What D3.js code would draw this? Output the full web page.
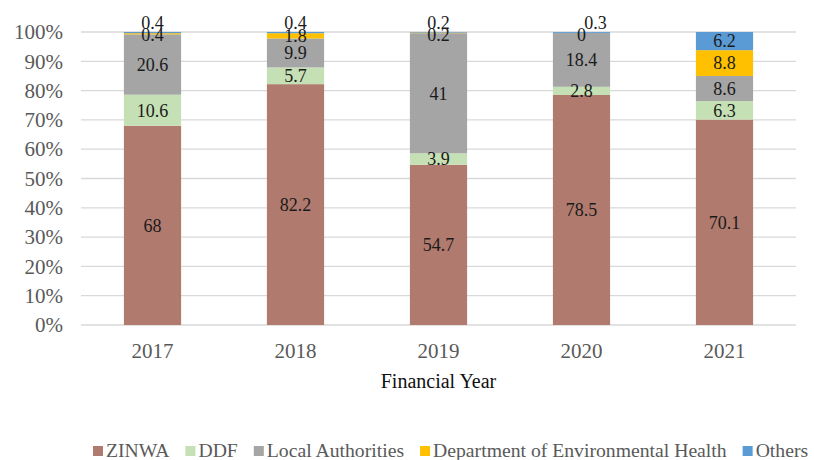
<!DOCTYPE html>
<html>
<head>
<meta charset="utf-8">
<script src="https://cdn.jsdelivr.net/npm/d3@7"></script>
<style>
  body { margin: 0; background: #fff; }
  svg text { font-family: "Liberation Serif", "Times New Roman", "DejaVu Serif", serif !important; }
</style>
</head>
<body>
<div id="chart"></div>
<script>
const years = ['2017', '2018', '2019', '2020', '2021'];
const seriesNames = ['ZINWA', 'DDF', 'Local Authorities', 'Department of Environmental Health', 'Others'];
const zinwa = [68, 82.2, 54.7, 78.5, 70.1];
const ddf = [10.6, 5.7, 3.9, 2.8, 6.3];
const localAuth = [20.6, 9.9, 41, 18.4, 8.6];
const envHealth = [0.4, 1.8, 0.2, 0, 8.8];
const others = [0.4, 0.4, 0.2, 0.3, 6.2];
const yTicks = [0, 10, 20, 30, 40, 50, 60, 70, 80, 90, 100];

const colors = ['#B07A6E', '#C5E0B4', '#A5A5A5', '#FFC000', '#5B9BD5'];

const width = 814, height = 460,
  margin = { top: 32, right: 18, bottom: 135, left: 81 },
  innerW = width - margin.left - margin.right,
  innerH = height - margin.top - margin.bottom;

const table = years.map((y, i) => ({
  year: y,
  ZINWA: zinwa[i],
  DDF: ddf[i],
  'Local Authorities': localAuth[i],
  'Department of Environmental Health': envHealth[i],
  Others: others[i],
}));

const stacked = d3.stack().keys(seriesNames)(table);

const svg = d3.select('#chart').append('svg')
  .attr('width', width).attr('height', height);
const g = svg.append('g').attr('transform', `translate(${margin.left},${margin.top})`);

const x = d3.scaleBand().domain(years).range([0, innerW]).paddingInner(0.6).paddingOuter(0.3);
const y = d3.scaleLinear().domain([0, 100]).range([innerH, 0]);

// gridlines
g.append('g').selectAll('line').data(yTicks).join('line')
  .attr('x1', 0).attr('x2', innerW)
  .attr('y1', d => y(d)).attr('y2', d => y(d))
  .attr('stroke', '#d9d9d9').attr('stroke-width', 1.3);

// y axis
const yAxis = g.append('g')
  .call(d3.axisLeft(y).tickValues(yTicks).tickFormat(d => d + '%').tickSize(0).tickPadding(18));
yAxis.select('.domain').remove();
yAxis.selectAll('text').attr('font-size', 21).attr('fill', '#595959');

// x axis
const xAxis = g.append('g').attr('transform', `translate(0,${innerH})`)
  .call(d3.axisBottom(x).tickSize(0).tickPadding(18));
xAxis.select('.domain').remove();
xAxis.selectAll('text').attr('font-size', 21).attr('fill', '#595959');

// bars
const layers = g.append('g').selectAll('g').data(stacked).join('g')
  .attr('fill', (d, i) => colors[i]);
layers.selectAll('rect').data(d => d).join('rect')
  .attr('x', d => x(d.data.year))
  .attr('width', x.bandwidth())
  .attr('y', d => y(d[1]))
  .attr('height', d => y(d[0]) - y(d[1]));

// labels
const labels = g.append('g');
stacked.forEach((layer, si) => {
  layer.forEach(d => {
    const v = d[1] - d[0];
    const key = seriesNames[si];
    let cx = x(d.data.year) + x.bandwidth() / 2;
    let cy = y((d[0] + d[1]) / 2);
    const tiny = v < 1;
    if (key === 'Others' && tiny) {
      cy = y(100) - 9;
      if (d.data.year === '2020') cx += 14;
    } else if (tiny) {
      cy = y(100) + 3;
    }
    labels.append('text')
      .attr('x', cx).attr('y', cy)
      .attr('dy', '0.35em')
      .attr('text-anchor', 'middle')
      .attr('font-size', 18)
      .attr('fill', '#1a1a1a')
      .text(d3.format('~g')(v));
  });
});

// axis title
svg.append('text')
  .attr('x', margin.left + innerW / 2).attr('y', 388)
  .attr('text-anchor', 'middle').attr('font-size', 20).attr('fill', '#111')
  .text('Financial Year');

// legend
const legend = svg.append('g').attr('transform', 'translate(0,457)');
let lx = 93;
seriesNames.forEach((name, i) => {
  const item = legend.append('g').attr('transform', `translate(${lx},0)`);
  item.append('rect').attr('x', 0).attr('y', -11).attr('width', 10).attr('height', 10).attr('fill', colors[i]);
  const t = item.append('text').attr('x', 13).attr('y', 0)
    .attr('font-size', 19.7).attr('fill', '#595959').text(name);
  lx += 13 + t.node().getComputedTextLength() + 16;
});
</script>
</body>
</html>
